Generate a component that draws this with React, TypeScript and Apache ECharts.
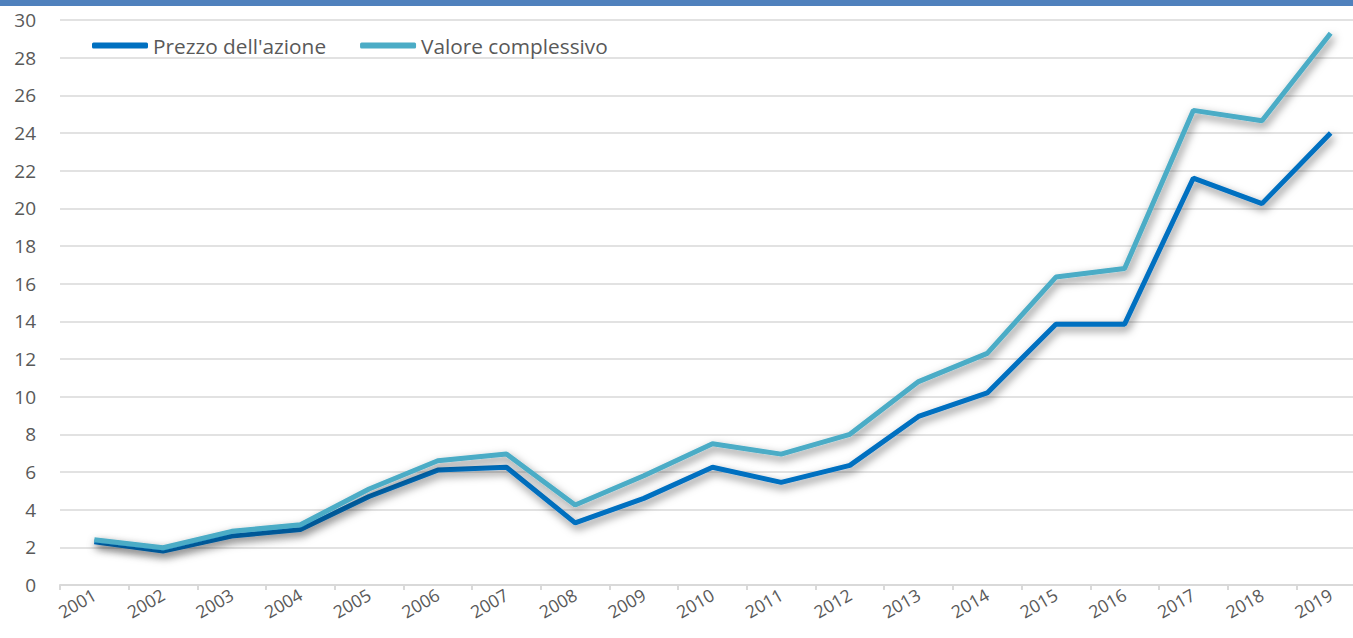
import React, { useEffect, useRef } from "react";
import * as echarts from "echarts";

const years = ["2001","2002","2003","2004","2005","2006","2007","2008","2009","2010","2011","2012","2013","2014","2015","2016","2017","2018","2019"];
const prezzo = [2.3, 1.8, 2.6, 2.95, 4.7, 6.1, 6.25, 3.3, 4.6, 6.25, 5.45, 6.35, 8.95, 10.2, 13.85, 13.85, 21.6, 20.25, 24.0];
const valore = [2.4, 1.98, 2.85, 3.2, 5.1, 6.6, 6.95, 4.25, 5.8, 7.5, 6.95, 8.0, 10.8, 12.3, 16.35, 16.8, 25.2, 24.65, 29.3];
const seriesNames = ["Prezzo dell'azione", "Valore complessivo"];
const colors = ["#0070C0", "#4BACC6"];

export default function App() {
  const ref = useRef<HTMLDivElement>(null);
  useEffect(() => {
    document.body.style.margin = "0";
    const chart = echarts.init(ref.current!, undefined, { renderer: "svg" });
    const font = "'Open Sans', sans-serif";
    const mk = (name: string, data: number[], color: string) => ({
      name,
      type: "line",
      data,
      symbol: "none",
      lineStyle: {
        color,
        width: 5,
        shadowColor: "rgba(0,0,0,0.5)",
        shadowBlur: 8,
        shadowOffsetX: 2,
        shadowOffsetY: 4,
      },
      itemStyle: { color },
    });
    chart.setOption({
      animation: false,
      backgroundColor: "#ffffff",
      graphic: [
        { type: "rect", left: 0, top: 0, shape: { width: 1366, height: 6 }, style: { fill: "#4F81BD" } },
      ],
      legend: {
        left: 87,
        top: 30,
        itemWidth: 56,
        itemHeight: 6,
        itemGap: 34,
        icon: "roundRect",
        textStyle: { color: "#595959", fontSize: 20.8, fontFamily: font },
        data: seriesNames,
      },
      grid: { left: 60, top: 20, right: 0, bottom: 53 },
      xAxis: {
        type: "category",
        data: years,
        boundaryGap: true,
        axisLine: { lineStyle: { color: "#D9D9D9", width: 2 } },
        axisTick: { show: true, length: 5, lineStyle: { color: "#D9D9D9", width: 2 } },
        axisLabel: { rotate: 30, color: "#595959", fontSize: 17.5, fontFamily: font, margin: 8, interval: 0 },
      },
      yAxis: {
        type: "value",
        min: 0,
        max: 30,
        interval: 2,
        axisLine: { show: false },
        axisTick: { show: false },
        splitLine: { lineStyle: { color: "#D9D9D9", width: 1.5 } },
        axisLabel: { color: "#595959", fontSize: 19, fontFamily: font, margin: 24 },
      },
      series: [mk(seriesNames[0], prezzo, colors[0]), mk(seriesNames[1], valore, colors[1])],
    });
    return () => chart.dispose();
  }, []);
  return (
    <div style={{ width: 1353, height: 638, overflow: "hidden" }}>
      <div ref={ref} style={{ width: 1365, height: 638 }} />
    </div>
  );
}
